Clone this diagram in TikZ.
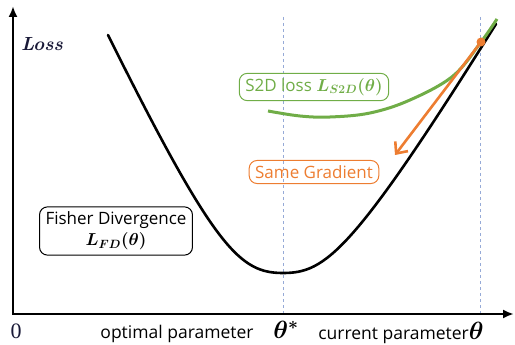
\documentclass[tikz,border=0pt]{standalone}
\usepackage{amsmath,bm}
\usepackage{fontspec}
\setsansfont{Open Sans}
\newfontfamily\chiffre{Liberation Serif}
\usetikzlibrary{arrows.meta,positioning}
\definecolor{vertsd}{RGB}{112,173,71}
\definecolor{orangegrad}{RGB}{237,125,49}
\definecolor{tirets}{RGB}{150,170,215}
\definecolor{encre}{RGB}{25,25,55}
\tikzset{
  axe/.style={line width=2.4pt},
  boite/.style={draw,rounded corners=8pt,line width=1pt,
    font=\sffamily\fontsize{17}{21}\selectfont,inner xsep=6pt,inner ysep=5pt,align=center},
  repere/.style={tirets,dashed,line width=0.6pt},
  etiquette/.style={font=\sffamily\fontsize{17.5}{19}\selectfont}
}
\begin{document}
\begin{tikzpicture}[x=1pt,y=-1pt]
\useasboundingbox (0,0) rectangle (515,345);
%					Points du repère :
					\coordinate (haut) at (13,6);
					\coordinate (droite) at (514,314);
					\coordinate (opt) at (283,17);
					\coordinate (optbas) at (283,314);
					\coordinate (cour) at (480,17);
					\coordinate (courbas) at (480,314);
%					Tracé des repères pointillés :
					\draw[repere] (opt) -- (optbas);
					\draw[repere] (cour) -- (courbas);
%					Tracé des axes :
					\draw[axe,{Latex[length=11pt,width=9pt]}-{Latex[length=11pt,width=9pt]}] (haut) |- (droite);
%					Tracé de la divergence de Fisher :
					\coordinate (debut) at (108,35);
					\coordinate (minimum) at (283,273);
					\coordinate (fin) at (496,24);
					\draw[line width=2.6pt,line cap=round] (debut) .. controls (215,250) and (240,273) .. (minimum)
						.. controls (325,273) and (352,254) .. (fin);
%					Tracé de la perte S2D :
					\draw[vertsd,line width=3pt] plot[smooth,tension=0.6] coordinates {(268,111) (300,116) (330,117) (370,113) (410,100) (453,76) (481,42) (497,19)};
%					Point courant et gradient :
					\coordinate (tangent) at (481,42);
					\coordinate (pointe) at (395,155);
					\fill[orangegrad] (tangent) circle (4.5pt);
					\draw[orangegrad,line width=2.6pt,-{Straight Barb[length=9pt,width=16pt]}] (tangent) -- (pointe);
%					Boîtes :
					\node[boite,text=vertsd,draw=vertsd] (sd) at (314,87) {S2D loss $\boldsymbol{L_{S2D}(\theta)}$};
					\node[boite,text=orangegrad,draw=orangegrad] (grad) at (314,172) {Same Gradient};
					\node[boite] (fisher) at (116,231) {Fisher Divergence\\$\boldsymbol{L_{FD}(\theta)}$};
%					Légendes :
					\node[text=encre] (loss) at (42,44) {\fontsize{19}{19}\selectfont\bfseries\itshape Loss};
					\node[text=encre] (zero) at (16,331) {\chiffre\fontsize{22}{22}\selectfont 0};
					\node[etiquette] (optimal) at (177,334) {optimal parameter};
					\node (thetaopt) at (286,330) {\fontsize{26}{26}\selectfont$\boldsymbol{\theta^{*}}$};
					\node[etiquette] (courant) at (401,333) {current parameter{\fontsize{26}{26}\selectfont$\boldsymbol{\theta}$}};
				\end{tikzpicture}
\end{document}
